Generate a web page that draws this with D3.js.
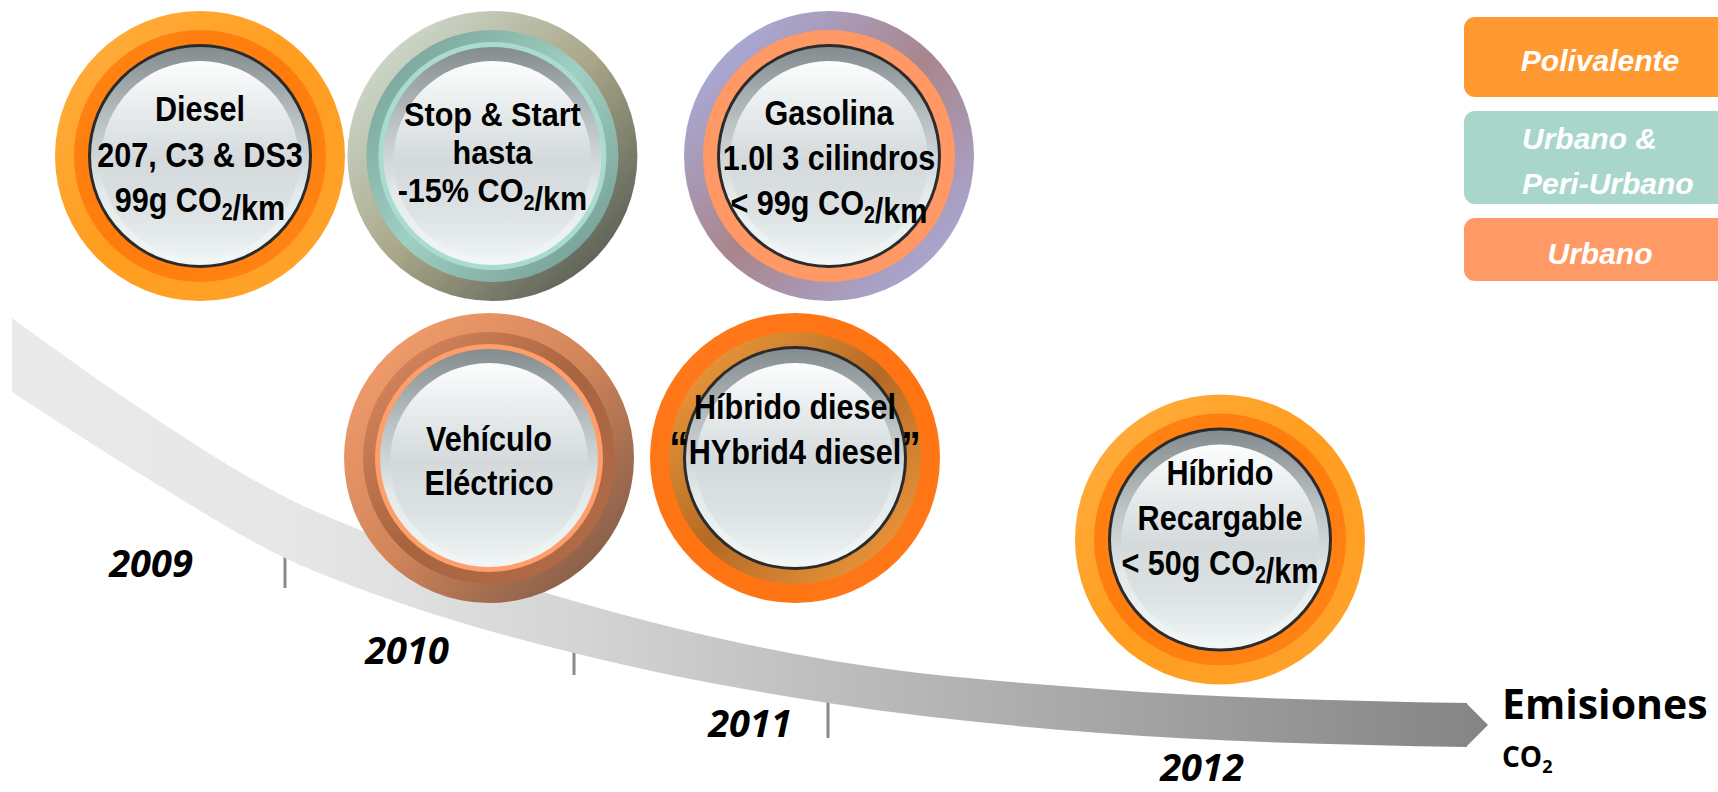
<!DOCTYPE html>
<html>
<head>
<meta charset="utf-8">
<script src="https://cdn.jsdelivr.net/npm/d3@7"></script>
<style>
  html, body { margin: 0; padding: 0; background: #fff; }
  svg { display: block; }
</style>
</head>
<body>
<div id="chart"></div>
<script>
// ---- datos ----
var tecnologias = ["Diesel", "Stop & Start", "Gasolina", "Vehículo Eléctrico", "Híbrido diesel", "Híbrido Recargable"];
var textos = [
  ["Diesel", "207, C3 & DS3", "99g CO{2}/km"],
  ["Stop & Start", "hasta", "-15% CO{2}/km"],
  ["Gasolina", "1.0l 3 cilindros", "< 99g CO{2}/km"],
  ["Vehículo", "Eléctrico"],
  ["Híbrido diesel", "[“]HYbrid4 diesel[”]"],
  ["Híbrido", "Recargable", "< 50g CO{2}/km"]
];
var segmentoTec = ["Polivalente", "Urbano & Peri-Urbano", "Urbano", "Urbano", "Polivalente", "Polivalente"];
var momento = [2009, 2009.86, 2010.85, 2009.85, 2010.75, 2012];   // posición en la línea de tiempo
var nivel = [0, 0, 0, 1, 1, 1.27];                                // fila del esquema
var segmentos = ["Polivalente", "Urbano & Peri-Urbano", "Urbano"];
var segmentoLineas = [["Polivalente"], ["Urbano &", "Peri-Urbano"], ["Urbano"]];
var anios = [2009, 2010, 2011, 2012];

// ---- maquetación ----
var width = 1718, height = 792;
var svg = d3.select("#chart").append("svg")
  .attr("width", width).attr("height", height)
  .attr("viewBox", "0 0 " + width + " " + height)
  .style("background", "#fff");
var defs = svg.append("defs");

var x = d3.scaleLinear().domain([2009, 2012]).range([200, 1220]),
  y = d3.scaleLinear().domain([0, 1]).range([156, 458]),
  xHito = d3.scaleLinear().domain([2009, 2010, 2011]).range([285, 574, 828]),
  xAnio = d3.scaleOrdinal().domain(anios).range([151, 407, 750, 1202]),
  yAnio = d3.scaleOrdinal().domain(anios).range([577, 664, 737, 781]),
  colorSeg = d3.scaleOrdinal().domain(segmentos).range(["#ff9a33", "#a9d6cb", "#ff9a66"]);

// flecha de emisiones (forma decorativa)
var cintaX = [12, 150, 285, 400, 574, 828, 1100, 1467],
  cintaSup = [318, 415, 497, 545, 601, 660, 689, 703],
  cintaInf = [392, 480, 558, 603, 653, 703, 733, 747];
var bordeInf = d3.scaleLinear().domain(cintaX).range(cintaInf);

var gCinta = defs.append("linearGradient").attr("id", "cinta")
  .attr("gradientUnits", "userSpaceOnUse")
  .attr("x1", 12).attr("x2", 1490).attr("y1", 0).attr("y2", 0);
[[0, "#eaeaea"], [0.2, "#e6e6e6"], [0.38, "#d5d5d5"], [0.55, "#bebebe"], [0.74, "#a6a6a6"], [1, "#848484"]]
  .forEach(function (s) { gCinta.append("stop").attr("offset", s[0]).attr("stop-color", s[1]); });

// marcas de año (debajo de la cinta)
var largoHito = [30, 22, 35];
svg.append("g").selectAll("line")
  .data(anios.slice(0, 3))
  .enter().append("line")
  .attr("x1", function (d) { return xHito(d); })
  .attr("x2", function (d) { return xHito(d); })
  .attr("y1", function (d) { return bordeInf(xHito(d)) - 10; })
  .attr("y2", function (d, i) { return bordeInf(xHito(d)) + largoHito[i]; })
  .style("stroke", "#8a8a8a").style("stroke-width", 3);

var puntos = cintaX.map(function (d, i) { return [d, cintaSup[i], cintaInf[i]]; });
svg.append("path")
  .attr("d", d3.area().x(function (d) { return d[0]; })
    .y0(function (d) { return d[2]; }).y1(function (d) { return d[1]; })
    .curve(d3.curveMonotoneX)(puntos))
  .style("fill", "url(#cinta)");
var ult = puntos[puntos.length - 1];
svg.append("path")
  .attr("d", d3.line()([[ult[0] - 1, ult[1]], [ult[0] + 21, (ult[1] + ult[2]) / 2], [ult[0] - 1, ult[2]]]) + "Z")
  .style("fill", "url(#cinta)");

// etiquetas de año
svg.append("g").selectAll("text")
  .data(anios)
  .enter().append("text")
  .attr("x", function (d) { return xAnio(d); })
  .attr("y", function (d) { return yAnio(d); })
  .attr("text-anchor", "middle")
  .style("font-family", "'Open Sans', 'Noto Sans', sans-serif")
  .style("font-weight", 700).style("font-style", "italic")
  .style("font-size", "38px").style("fill", "#000")
  .text(function (d) { return d; });

// Emisiones CO2
var emis = svg.append("g").style("font-family", "'Open Sans', 'Noto Sans', sans-serif").style("font-weight", 700);
emis.append("text").attr("x", 1502).attr("y", 719).style("font-size", "41px").text("Emisiones");
var co2 = emis.append("text").attr("x", 1502).attr("y", 767).style("font-size", "28px");
co2.append("tspan").text("CO");
co2.append("tspan").attr("dy", 6).style("font-size", "18px").text("2");

// ---- botones ----
function gradiente(id, colores, vertical) {
  var g = defs.append("linearGradient").attr("id", id)
    .attr("x1", 0).attr("y1", 0).attr("x2", vertical ? 0 : 1).attr("y2", 1);
  colores.forEach(function (c, i) {
    g.append("stop").attr("offset", i / (colores.length - 1)).attr("stop-color", c);
  });
  return "url(#" + id + ")";
}

var estilos = {
  "Diesel": { anillo: ["#ffb043", "#ff9d1e", "#ffa42e"], interior: ["#ff8414", "#ff7c0c", "#ff8616"], borde: true },
  "Stop & Start": { anillo: ["#d8e8e1", "#aaa789", "#434b47"], interior: ["#6f9c90", "#a0cfc3", "#6c948a"], filete: "#a9dccf" },
  "Gasolina": { anillo: ["#a9b6f2", "#a9858b", "#a9b2ea"], interior: ["#ff9966", "#ff9865", "#ff9966"], borde: true },
  "Vehículo Eléctrico": { anillo: ["#f9a271", "#d2855a", "#6f5244"], interior: ["#e08e62", "#a8643f", "#b46c49"], filete: "#ff9d6b" },
  "Híbrido diesel": { anillo: ["#ff7a1c", "#ff7312", "#ff7818"], interior: ["#f7a23e", "#b56a24", "#f8a040"], borde: true },
  "Híbrido Recargable": { anillo: ["#ffb043", "#ff9d1e", "#ffa42e"], interior: ["#ff8414", "#ff7c0c", "#ff8616"], borde: true }
};
// [primera línea, interlineado, tamaño, escala horizontal]
var ajusteTexto = {
  "Diesel": [-35, 45.5, 36, 0.85], "Stop & Start": [-30, 38, 34, 0.9], "Gasolina": [-31, 45, 36, 0.85],
  "Vehículo Eléctrico": [-7, 44, 36, 0.85], "Híbrido diesel": [-39, 45, 36, 0.85], "Híbrido Recargable": [-55, 45, 36, 0.85]
};
var R = 145, R2 = 126, RB = 112;
var bisel = gradiente("bisel", ["#848c8f", "#b9c0c2", "#e4eaea", "#f2f6f6"], true);
var disco = gradiente("disco", ["#fdfefe", "#e7ebec", "#d4dadc", "#dce2e3", "#eef3f3"], true);

var botones = svg.append("g").selectAll("g")
  .data(tecnologias)
  .enter().append("g")
  .attr("transform", function (d, i) { return "translate(" + x(momento[i]) + "," + y(nivel[i]) + ")"; });

botones.each(function (d, i) {
  var g = d3.select(this), e = estilos[d];
  g.append("circle").attr("r", R).style("fill", gradiente("an" + i, e.anillo));
  g.append("circle").attr("r", R2).style("fill", gradiente("in" + i, e.interior));
  if (e.borde) {
    g.append("circle").attr("r", RB).style("fill", "#2b2b2b");
  } else {
    g.append("circle").attr("r", RB + 2).style("fill", e.filete);
  }
  g.append("circle").attr("r", RB - 3).style("fill", bisel);
  g.append("circle").attr("cy", 4).attr("r", 99).style("fill", disco);

  var aj = ajusteTexto[d], fs = aj[2];
  var t = g.append("text")
    .attr("transform", "scale(" + aj[3] + ",1)")
    .attr("text-anchor", "middle")
    .style("font-family", "'Liberation Sans', Arial, sans-serif")
    .style("font-weight", 700).style("font-size", fs + "px").style("fill", "#000");
  textos[i].forEach(function (linea, k) {
    var l = t.append("tspan").attr("x", 0).attr("y", aj[0] + k * aj[1]);
    linea.split(/(\{2\}|\[“\]|\[”\])/).forEach(function (p) {
      if (p === "") return;
      if (p === "{2}") {
        l.append("tspan").attr("dy", 8).style("font-size", Math.round(fs * 0.64) + "px").text("2");
        l.append("tspan").attr("dy", -8).text("");
      } else if (p === "[“]" || p === "[”]") {
        l.append("tspan").style("font-size", "46px").style("font-weight", 900).text(p.charAt(1));
      } else {
        l.append("tspan").text(p);
      }
    });
  });
});

// ---- leyenda ----
var cajaY = [17, 111, 218], cajaAlto = [80, 93, 63];
var ley = svg.append("g").selectAll("g")
  .data(segmentos)
  .enter().append("g");
ley.append("rect")
  .attr("x", 1464).attr("y", function (d, i) { return cajaY[i]; })
  .attr("width", 320).attr("height", function (d, i) { return cajaAlto[i]; })
  .attr("rx", 11).attr("ry", 11)
  .style("fill", function (d) { return colorSeg(d); });
ley.each(function (d, i) {
  var lin = segmentoLineas[i];
  var t = d3.select(this).append("text")
    .style("font-family", "'Liberation Sans', Arial, sans-serif")
    .style("font-weight", 700).style("font-style", "italic")
    .style("font-size", "30px").style("fill", "#fff")
    .attr("text-anchor", lin.length > 1 ? "start" : "middle");
  var base = cajaY[i] + cajaAlto[i] / 2 + 11 - (lin.length - 1) * 22.5 + 3;
  lin.forEach(function (s, k) {
    t.append("tspan").attr("x", lin.length > 1 ? 1522 : 1600).attr("y", base + k * 45).text(s);
  });
});
</script>
</body>
</html>
